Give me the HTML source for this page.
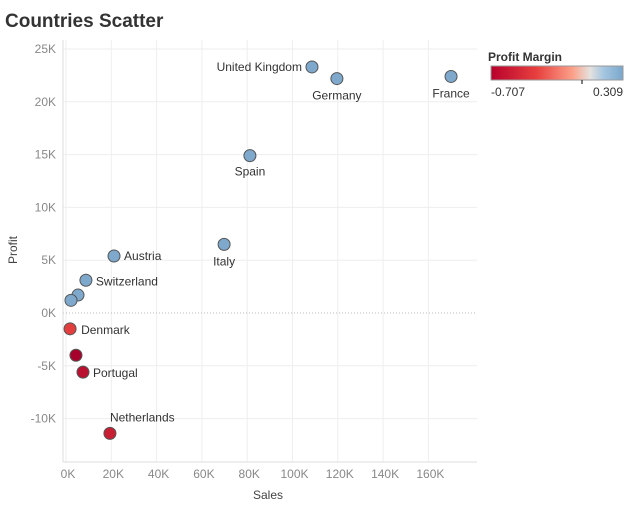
<!DOCTYPE html>
<html><head><meta charset="utf-8"><style>
body{margin:0;background:#fff;font-family:"Liberation Sans",sans-serif;}
svg text{font-family:"Liberation Sans",sans-serif;}
</style></head><body>
<svg width="627" height="512">
<defs><linearGradient id="g" x1="0" x2="1"><stop offset="0" stop-color="#b8002c"/><stop offset="0.35" stop-color="#e8413f"/><stop offset="0.62" stop-color="#fba18a"/><stop offset="0.75" stop-color="#e5e2df"/><stop offset="0.85" stop-color="#a6c6e0"/><stop offset="1" stop-color="#79a7cc"/></linearGradient></defs>
<text x="5" y="27" font-size="19" font-weight="bold" fill="#333">Countries Scatter</text>
<g id="grid"></g>
<g id="pts"></g>
<text x="17" y="250" font-size="12" fill="#444" transform="rotate(-90 17 250)" text-anchor="middle">Profit</text>
<text x="268" y="499" font-size="12" fill="#444" text-anchor="middle">Sales</text>
<g>
<text x="488" y="61" font-size="12" font-weight="bold" fill="#333">Profit Margin</text>
<rect x="491" y="66" width="132" height="14" fill="url(#g)" stroke="#999"/>
<line x1="582" y1="80" x2="582" y2="84" stroke="#000"/>
<text x="491" y="96" font-size="12" fill="#333">-0.707</text>
<text x="623" y="96" font-size="12" fill="#333" text-anchor="end">0.309</text>
</g>
</svg>
<script>
const names=["United Kingdom","Germany","France","Spain","Italy","Austria","Switzerland","","","Denmark","","Portugal","Netherlands"];
const sales=[108.6,119.6,170,81.2,69.8,21.2,8.8,5.3,2.2,1.8,4.4,7.5,19.4];
const profit=[23.3,22.2,22.4,14.9,6.5,5.4,3.1,1.7,1.2,-1.5,-4.0,-5.6,-11.4];
const colors=["#7ea8cc","#7ea8cc","#7ea8cc","#7ea8cc","#7ea8cc","#7ea8cc","#7ea8cc","#7ea8cc","#7ea8cc","#e23e3e","#a8002c","#b8102e","#c81e34"];
const labelPos=[[-10,4,"end"],[0,21,"middle"],[0,21,"middle"],[0,20,"middle"],[0,21,"middle"],[10,4,"start"],[10,5,"start"],[0,0,"start"],[0,0,"start"],[11,5,"start"],[0,0,"start"],[10,5,"start"],[0,-12,"start"]];
const xTicks=[0,20,40,60,80,100,120,140,160];
const yTicks=[-10,-5,0,5,10,15,20,25];
const X=v=>66+v*45.3/20, Y=v=>313-v*52.8/5;
const NS="http://www.w3.org/2000/svg";
function mk(t,a,p){const e=document.createElementNS(NS,t);for(const k in a)e.setAttribute(k,a[k]);p.appendChild(e);return e;}
const grid=document.getElementById('grid'),pts=document.getElementById('pts');
for(const t of xTicks){const l=mk('line',{x1:X(t),x2:X(t),y1:40,y2:462,stroke:'#eee'},grid);


const tx=mk('text',{x:X(t)+2,y:478,'font-size':12,fill:'#888','text-anchor':'middle'},grid);tx.textContent=t+'K';

}
for(const t of yTicks){const l=mk('line',{x1:63,x2:477,y1:Y(t),y2:Y(t),stroke:t===0?'#bbb':'#eee','stroke-dasharray':t===0?'1,2':'none'},grid);


const tx=mk('text',{x:56,y:Y(t)+4,'font-size':12,fill:'#888','text-anchor':'end'},grid);tx.textContent=t+'K';

}
mk('line',{x1:63,x2:63,y1:40,y2:462,stroke:'#ddd'},grid);
mk('line',{x1:63,x2:477,y1:462,y2:462,stroke:'#ddd'},grid);
sales.forEach((s,i)=>{const c=mk('circle',{cx:X(s),cy:Y(profit[i]),r:6,fill:colors[i],stroke:'#555','stroke-width':1},pts);


if(names[i]){const p=labelPos[i];const t=mk('text',{x:X(s)+p[0],y:Y(profit[i])+p[1],'font-size':12,fill:'#333','text-anchor':p[2]},pts);t.textContent=names[i];

}});
</script>
</body></html>
